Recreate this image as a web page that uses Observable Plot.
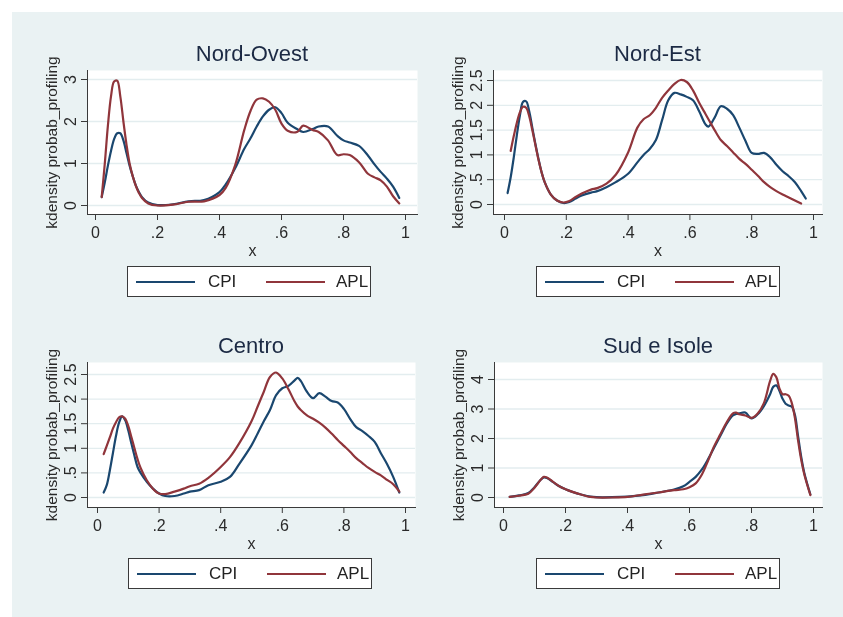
<!DOCTYPE html>
<html><head><meta charset="utf-8">
<script src="https://cdn.jsdelivr.net/npm/d3@7"></script>
<script src="https://cdn.jsdelivr.net/npm/@observablehq/plot@0.6"></script>
<style>
html,body{margin:0;padding:0;background:#fff;width:843px;height:617px;overflow:hidden;font-family:"Liberation Sans",Arial,sans-serif;}
#bg{position:fixed;left:12px;top:12px;right:0;bottom:0;background:#eaf2f3;}
.ttl{position:absolute;width:300px;text-align:center;font-size:22px;line-height:22px;color:#1c2a44;white-space:nowrap;}
.plot{position:absolute;}
.leg{position:absolute;box-sizing:border-box;background:#fff;border:1px solid #3a3a3a;}
.leg .sw{position:absolute;height:2px;}
.leg .lt{position:absolute;font-size:17px;line-height:17px;color:#222;}
</style>
</head><body>
<div id="bg"></div>
<script>
// ---------------- data ----------------
const seriesNames = ["CPI", "APL"];
const xTicks = [0, 0.2, 0.4, 0.6, 0.8, 1];
const yTicksNO = [0, 1, 2, 3];
const yTicksNE = [0, 0.5, 1, 1.5, 2, 2.5];
const yTicksC  = [0, 0.5, 1, 1.5, 2, 2.5];
const yTicksS  = [0, 1, 2, 3, 4];

// Nord-Ovest
const xNO   = [0.02,0.03,0.04,0.05,0.06,0.07,0.08,0.09,0.10,0.11,0.12,0.13,0.14,0.15,0.17,0.20,0.25,0.30,0.35,0.40,0.42,0.45,0.48,0.50,0.52,0.54,0.56,0.58,0.60,0.62,0.65,0.67,0.70,0.72,0.75,0.78,0.80,0.82,0.85,0.88,0.90,0.92,0.94,0.96,0.98];
const cpiNO = [0.20,0.55,0.95,1.30,1.58,1.72,1.72,1.55,1.25,0.95,0.70,0.48,0.32,0.20,0.07,0.01,0.03,0.10,0.13,0.32,0.50,0.88,1.35,1.60,1.88,2.12,2.28,2.34,2.20,1.97,1.82,1.75,1.82,1.88,1.88,1.66,1.55,1.50,1.42,1.18,0.98,0.80,0.64,0.45,0.18];
const aplNO = [0.20,1.00,1.90,2.60,2.95,2.97,2.60,2.00,1.45,1.00,0.70,0.47,0.30,0.18,0.05,0.00,0.02,0.09,0.10,0.25,0.42,0.95,1.80,2.25,2.52,2.55,2.47,2.28,1.95,1.78,1.75,1.90,1.80,1.75,1.55,1.20,1.22,1.20,1.03,0.75,0.67,0.60,0.45,0.22,0.05];

// Nord-Est
const xNE   = [0.01,0.02,0.03,0.04,0.05,0.06,0.07,0.08,0.09,0.10,0.11,0.12,0.13,0.15,0.17,0.19,0.21,0.23,0.25,0.28,0.30,0.33,0.36,0.40,0.43,0.45,0.47,0.49,0.51,0.53,0.55,0.57,0.59,0.61,0.63,0.65,0.66,0.68,0.70,0.72,0.74,0.76,0.78,0.80,0.82,0.84,0.86,0.88,0.90,0.92,0.94,0.96,0.975];
const cpiNE = [0.23,0.55,0.95,1.40,1.80,2.07,2.08,1.88,1.55,1.22,0.92,0.65,0.45,0.20,0.08,0.03,0.05,0.12,0.18,0.24,0.27,0.35,0.45,0.62,0.85,1.00,1.12,1.30,1.70,2.10,2.25,2.22,2.17,2.10,1.88,1.62,1.57,1.75,1.98,1.93,1.80,1.55,1.28,1.04,1.02,1.04,0.95,0.80,0.67,0.57,0.45,0.27,0.12];
const aplNE = [null,1.08,1.38,1.65,1.86,1.97,1.95,1.78,1.50,1.20,0.90,0.65,0.45,0.20,0.08,0.04,0.07,0.15,0.22,0.30,0.33,0.42,0.60,1.05,1.55,1.72,1.80,1.95,2.15,2.30,2.43,2.51,2.47,2.30,2.05,1.83,1.72,1.50,1.30,1.18,1.05,0.92,0.82,0.70,0.58,0.45,0.35,0.27,0.20,0.14,0.08,0.02,null];

// Centro
const xC   = [0.02,0.03,0.04,0.05,0.06,0.07,0.08,0.09,0.10,0.11,0.12,0.13,0.14,0.16,0.18,0.20,0.22,0.25,0.28,0.30,0.33,0.36,0.40,0.43,0.46,0.50,0.52,0.54,0.56,0.58,0.60,0.62,0.64,0.65,0.66,0.68,0.70,0.72,0.74,0.76,0.78,0.80,0.82,0.84,0.86,0.88,0.90,0.92,0.94,0.96,0.98];
const cpiC = [0.10,0.25,0.55,0.90,1.25,1.52,1.65,1.57,1.36,1.10,0.85,0.62,0.50,0.32,0.18,0.08,0.03,0.03,0.08,0.12,0.15,0.25,0.32,0.42,0.68,1.06,1.30,1.55,1.78,2.08,2.22,2.27,2.38,2.43,2.37,2.15,2.02,2.12,2.05,1.96,1.93,1.80,1.60,1.43,1.35,1.25,1.13,0.90,0.68,0.42,0.10];
const aplC = [0.88,1.05,1.22,1.40,1.53,1.63,1.65,1.60,1.45,1.23,1.00,0.78,0.60,0.35,0.18,0.08,0.07,0.12,0.18,0.23,0.28,0.40,0.62,0.82,1.10,1.55,1.85,2.15,2.45,2.54,2.42,2.20,1.95,1.85,1.78,1.67,1.60,1.52,1.42,1.30,1.17,1.05,0.93,0.80,0.70,0.60,0.52,0.45,0.36,0.27,0.12];

// Sud e Isole
const xS   = [0.02,0.05,0.08,0.10,0.12,0.13,0.14,0.16,0.18,0.20,0.22,0.25,0.28,0.30,0.35,0.40,0.45,0.50,0.55,0.58,0.60,0.62,0.64,0.66,0.68,0.70,0.72,0.74,0.75,0.76,0.78,0.80,0.82,0.84,0.86,0.87,0.88,0.89,0.90,0.91,0.92,0.93,0.94,0.95,0.96,0.97,0.99];
const cpiS = [0.02,0.07,0.15,0.35,0.60,0.68,0.66,0.52,0.38,0.28,0.20,0.10,0.03,0.01,0.01,0.03,0.08,0.17,0.27,0.38,0.53,0.70,0.95,1.30,1.70,2.10,2.50,2.78,2.83,2.85,2.88,2.68,2.82,3.10,3.50,3.75,3.80,3.62,3.35,3.18,3.12,3.08,2.80,2.10,1.40,0.85,0.10];
const aplS = [0.02,0.06,0.13,0.33,0.60,0.70,0.68,0.53,0.38,0.28,0.20,0.10,0.02,0.00,0.00,0.02,0.10,0.17,0.25,0.28,0.35,0.48,0.78,1.25,1.75,2.15,2.55,2.85,2.88,2.82,2.78,2.70,2.85,3.20,3.95,4.19,4.08,3.70,3.50,3.50,3.45,3.20,2.70,1.95,1.30,0.80,0.08];

// ---------------- layout ----------------
const colors = {CPI: "#1a476f", APL: "#90353b"};
const panels = [
  {title: "Nord-Ovest",  x: xNO, cpi: cpiNO, apl: aplNO, yTicks: yTicksNO, ax: 87,  rx: 417, ft: 70,  fb: 214, px0: 95,  px1: 405, py0: 205, pyM: 79,  titleBase: 62,  legLeft: 127, legTop: 266},
  {title: "Nord-Est",    x: xNE, cpi: cpiNE, apl: aplNE, yTicks: yTicksNE, ax: 493, rx: 822, ft: 70,  fb: 214, px0: 504, px1: 813, py0: 204, pyM: 80,  titleBase: 62,  legLeft: 536, legTop: 266},
  {title: "Centro",      x: xC,  cpi: cpiC,  apl: aplC,  yTicks: yTicksC,  ax: 87,  rx: 415, ft: 362, fb: 507, px0: 97,  px1: 405, py0: 497, pyM: 374, titleBase: 354, legLeft: 128, legTop: 558},
  {title: "Sud e Isole", x: xS,  cpi: cpiS,  apl: aplS,  yTicks: yTicksS,  ax: 494, rx: 822, ft: 362, fb: 507, px0: 503, px1: 813, py0: 497, pyM: 379, titleBase: 354, legLeft: 536, legTop: 558}
];

const fmt = d => d === 0 ? "0" : String(d).replace(/^0\./, ".");
const FONT = "'Liberation Sans', Arial, sans-serif";

for (const p of panels) {
  const ML = 50, MT = 8, MR = 6, MB = 44;
  const left = p.ax - ML, top = p.ft - MT;
  const width = p.rx - left + MR, height = p.fb - top + MB;
  const cpiRows = p.x.map((xv, i) => ({x: xv, v: p.cpi[i]}));
  const aplRows = p.x.map((xv, i) => ({x: xv, v: p.apl[i]}));
  const ymax = p.yTicks[p.yTicks.length - 1];
  const chart = Plot.plot({
    width, height,
    marginLeft: ML, marginTop: MT, marginRight: MR, marginBottom: MB,
    style: {background: "transparent", fontFamily: FONT, fontSize: "16px", color: "#2a2a2a", overflow: "visible"},
    x: {domain: [0, 1], range: [p.px0 - left, p.px1 - left]},
    y: {domain: [0, ymax], range: [p.py0 - top, p.pyM - top]},
    marks: [
      Plot.frame({fill: "white", stroke: null}),
      Plot.gridY(p.yTicks, {stroke: "#e3edef", strokeOpacity: 1, strokeWidth: 1.3}),
      Plot.line(cpiRows, {x: "x", y: "v", stroke: colors.CPI, strokeWidth: 2.2, curve: "catmull-rom"}),
      Plot.line(aplRows, {x: "x", y: "v", stroke: colors.APL, strokeWidth: 2.2, curve: "catmull-rom"}),
      Plot.axisX(xTicks, {tickFormat: fmt, tickSize: 6, tickPadding: 6, label: null, stroke: "#3a3a3a", fill: "#2a2a2a"}),
      Plot.axisY(p.yTicks, {tickFormat: fmt, tickSize: 6, tickPadding: 6, tickRotate: -90, label: null, stroke: "#3a3a3a", fill: "#2a2a2a"}),
      Plot.frame({anchor: "left", stroke: "#3a3a3a"}),
      Plot.frame({anchor: "bottom", stroke: "#3a3a3a"}),
      Plot.text(["x"], {frameAnchor: "bottom", dy: 36, lineAnchor: "middle", textAnchor: "middle", fontSize: 16, fill: "#2a2a2a"}),
      Plot.text(["kdensity probab_profiling"], {frameAnchor: "left", dx: -35, rotate: -90, lineAnchor: "middle", textAnchor: "middle", fontSize: 15.5, fill: "#2a2a2a"})
    ]
  });
  chart.classList.add("plot");
  chart.style.left = left + "px";
  chart.style.top = top + "px";
  document.body.appendChild(chart);

  // title
  const t = document.createElement("div");
  t.className = "ttl";
  t.textContent = p.title;
  t.style.left = ((p.ax + p.rx) / 2 - 150) + "px";
  t.style.top = (p.titleBase - 18.6) + "px";
  document.body.appendChild(t);

  // legend
  const lg = document.createElement("div");
  lg.className = "leg";
  lg.style.left = p.legLeft + "px";
  lg.style.top = p.legTop + "px";
  lg.style.width = "244px";
  lg.style.height = "31px";
  const items = [{name: seriesNames[0], sw: 8, tx: 80}, {name: seriesNames[1], sw: 138, tx: 208}];
  for (const it of items) {
    const sw = document.createElement("div");
    sw.className = "sw";
    sw.style.left = it.sw + "px";
    sw.style.width = "59px";
    sw.style.top = "14px";
    sw.style.background = colors[it.name];
    lg.appendChild(sw);
    const tx = document.createElement("div");
    tx.className = "lt";
    tx.textContent = it.name;
    tx.style.left = it.tx + "px";
    tx.style.top = "6px";
    lg.appendChild(tx);
  }
  document.body.appendChild(lg);
}
</script>
</body></html>
